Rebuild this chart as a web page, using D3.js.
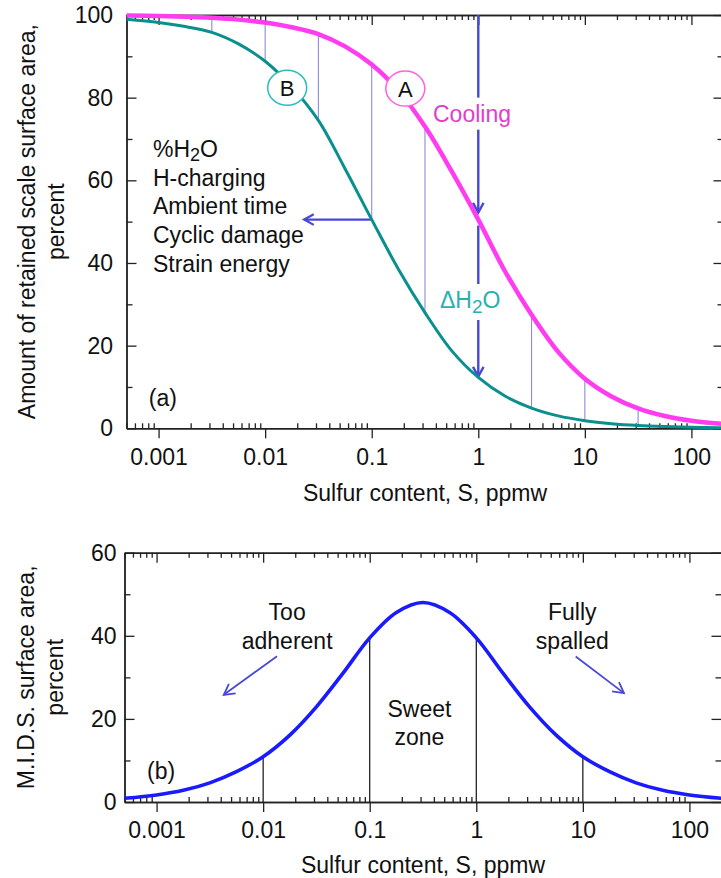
<!DOCTYPE html>
<html><head><meta charset="utf-8">
<script src="https://cdn.jsdelivr.net/npm/d3@7"></script>
<style>
body{margin:0;background:#fff;}
svg text{font-family:"Liberation Sans", Arial, Helvetica, sans-serif;}
</style></head><body>
<svg id="chart" width="721" height="878"></svg>
<script>
// ---------------- data ----------------
const sulfur = [0.0005, 0.001, 0.00178, 0.00316, 0.00562, 0.01, 0.0178, 0.0316, 0.0562, 0.1, 0.178, 0.316, 0.562, 1, 1.78, 3.16, 5.62, 10, 17.8, 31.6, 56.2, 100, 200];
const curveA = [99.86, 99.75, 99.58, 99.32, 98.88, 98.17, 97.03, 95.4, 92.4, 88.0, 81.7, 73.0, 62.2, 50.5, 38.0, 27.5, 18.5, 12.0, 7.7, 4.8, 2.97, 1.83, 1.05];
const curveB = [99.0, 98.2, 97.2, 95.8, 93.0, 88.8, 82.6, 74.5, 62.8, 50.5, 38.5, 28.0, 18.8, 12.3, 7.8, 4.9, 3.0, 1.85, 1.12, 0.68, 0.42, 0.25, 0.13];
const mids = [0.9, 1.7, 2.8, 4.6, 7.3, 10.9, 16.1, 22.9, 31.0, 39.5, 45.6, 48.0, 45.6, 39.5, 31.0, 22.9, 16.1, 10.9, 7.3, 4.6, 2.8, 1.7, 0.9];
const dropLinesS = [0.00316, 0.01, 0.0316, 0.1, 0.316, 3.16, 10, 31.6];
const midsLinesS = [0.01, 0.1, 1, 10];
const xTickValues = [0.001, 0.01, 0.1, 1, 10, 100];
const yTicksTop = [0, 20, 40, 60, 80, 100];
const yMinorTop = [10, 30, 50, 70, 90];
const yTicksBot = [0, 20, 40, 60];
const yMinorBot = [10, 30, 50];
const factorLabels = ["%H\u2082O", "H-charging", "Ambient time", "Cyclic damage", "Strain energy"];
const xTitle = "Sulfur content, S, ppmw";
const yTitleTop = ["Amount of retained scale surface area,", "percent"];
const yTitleBot = ["M.I.D.S. surface area,", "percent"];

// ---------------- setup ----------------
const svg = d3.select("#chart");
const FONT = 23;
const colA = "#ff3cf0", colB = "#0a8f8f", colMids = "#1a1aff";
const colThin = "#8a8ae0", colArrow = "#4848d8";

const xTop = d3.scaleLog().domain([0.0005, 200]).range([126.5, 723.5]);
const yTop = d3.scaleLinear().domain([0, 100]).range([428.3, 15]);
const xBot = d3.scaleLog().domain([0.0005, 200]).range([124.5, 721.5]);
const yBot = d3.scaleLinear().domain([0, 60]).range([802, 552.7]);

function minorTicks(dom) {
  const out = [];
  for (let k = -5; k <= 3; k++) for (let m = 2; m <= 9; m++) {
    const v = m * Math.pow(10, k);
    if (v >= dom[0] && v <= dom[1]) out.push(v);
  }
  return out;
}
function interp(arr, s) {
  const ls = sulfur.map(Math.log10), t = Math.log10(s);
  for (let i = 0; i < ls.length - 1; i++) {
    if (t >= ls[i] - 1e-9 && t <= ls[i + 1] + 1e-9) {
      const f = (t - ls[i]) / (ls[i + 1] - ls[i]);
      return arr[i] + f * (arr[i + 1] - arr[i]);
    }
  }
  return arr[arr.length - 1];
}

function styleAxis(g) {
  g.selectAll("path.domain").attr("stroke", "#222").attr("stroke-width", 1.4);
  g.selectAll(".tick line").attr("stroke", "#222").attr("stroke-width", 1.3);
  g.selectAll("text").attr("font-size", FONT).attr("fill", "#111")
    .attr("font-family", "'Liberation Sans', Arial, sans-serif");
  g.attr("font-family", null).attr("font-size", null);
}

function drawFrame(x, y, yMaj, yMin, leftPad) {
  const [x0, x1] = x.range(), [y0, y1] = y.range();
  const minors = minorTicks(x.domain());
  svg.append("g").attr("transform", `translate(0,${y0})`)
    .call(d3.axisBottom(x).tickValues(minors).tickSize(-5).tickSizeOuter(0).tickFormat(""))
    .call(styleAxis);
  svg.append("g").attr("transform", `translate(0,${y0})`)
    .call(d3.axisBottom(x).tickValues(xTickValues).tickSize(10).tickSizeOuter(0).tickPadding(10).tickFormat(d3.format("~g")))
    .call(styleAxis);
  svg.append("g").attr("transform", `translate(0,${y1})`)
    .call(d3.axisTop(x).tickValues(minors).tickSize(-5).tickSizeOuter(0).tickFormat(""))
    .call(styleAxis);
  svg.append("g").attr("transform", `translate(0,${y1})`)
    .call(d3.axisTop(x).tickValues(xTickValues).tickSize(-10).tickSizeOuter(0).tickFormat(""))
    .call(styleAxis);
  svg.append("g").attr("transform", `translate(${x0},0)`)
    .call(d3.axisLeft(y).tickValues(yMin).tickSize(-6).tickSizeOuter(0).tickFormat(""))
    .call(styleAxis);
  svg.append("g").attr("transform", `translate(${x0},0)`)
    .call(d3.axisLeft(y).tickValues(yMaj).tickSize(-10).tickSizeOuter(0).tickPadding(leftPad).tickFormat(d3.format("d")))
    .call(styleAxis);
  svg.append("g").attr("transform", `translate(${x1},0)`)
    .call(d3.axisRight(y).tickValues(yMin).tickSize(-6).tickSizeOuter(0).tickFormat(""))
    .call(styleAxis);
  svg.append("g").attr("transform", `translate(${x1},0)`)
    .call(d3.axisRight(y).tickValues(yMaj).tickSize(-10).tickSizeOuter(0).tickFormat(""))
    .call(styleAxis);
}

function arrow(g, xa, ya, xb, yb, color, w, head) {
  g.append("line").attr("x1", xa).attr("y1", ya).attr("x2", xb).attr("y2", yb)
    .attr("stroke", color).attr("stroke-width", w);
  const ang = Math.atan2(yb - ya, xb - xa), L = head || 11, s = 0.5;
  const p = [[xb - L * Math.cos(ang - s), yb - L * Math.sin(ang - s)], [xb, yb], [xb - L * Math.cos(ang + s), yb - L * Math.sin(ang + s)]];
  g.append("path").attr("d", d3.line()(p)).attr("fill", "none").attr("stroke", color)
    .attr("stroke-width", w).attr("stroke-linejoin", "miter").attr("stroke-linecap", "butt");
}

function bgText(g, txt, pad) {
  const b = txt.node().getBBox();
  g.insert("rect", () => txt.node()).attr("x", b.x - pad).attr("y", b.y - pad)
    .attr("width", b.width + 2 * pad).attr("height", b.height + 2 * pad).attr("fill", "#fff");
}

// ================= TOP PANEL (a) =================
drawFrame(xTop, yTop, yTicksTop, yMinorTop, 13.5);
const gA = svg.append("g");

dropLinesS.forEach(s => {
  gA.append("line").attr("x1", xTop(s)).attr("x2", xTop(s))
    .attr("y1", yTop(interp(curveA, s))).attr("y2", yTop(interp(curveB, s)))
    .attr("stroke", colThin).attr("stroke-width", 1.1);
});

const sArrow = 1;
const annG = svg.append("g");
arrow(annG, xTop(sArrow), yTop(100), xTop(sArrow), yTop(interp(curveA, sArrow)) - 7, colArrow, 2.4, 11);
arrow(annG, xTop(sArrow), yTop(interp(curveA, sArrow)) + 6, xTop(sArrow), yTop(interp(curveB, sArrow)) - 1, colArrow, 2.4, 11);
arrow(annG, xTop(0.1), yTop(interp(curveB, 0.1)), xTop(0.0232), yTop(interp(curveB, 0.1)), colArrow, 2.2, 11);

const coolT = annG.append("text").attr("x", xTop(0.376)).attr("y", yTop(74.2))
  .attr("font-size", FONT).attr("fill", "#e040c8").text("Cooling");
bgText(annG, coolT, 3);
const dT = annG.append("text").attr("x", xTop(0.437)).attr("y", yTop(29.1))
  .attr("font-size", FONT).attr("fill", "#2ab0b0");
dT.append("tspan").text("\u0394H");
dT.append("tspan").attr("dy", 5).attr("font-size", 19).text("2");
dT.append("tspan").attr("dy", -5).text("O");
bgText(annG, dT, 3);

const lineTop = d3.line().x(d => xTop(d[0])).y(d => yTop(d[1])).curve(d3.curveCatmullRom.alpha(0.5));
svg.append("path").datum(sulfur.map((s, i) => [s, curveB[i]])).attr("d", lineTop)
  .attr("fill", "none").attr("stroke", colB).attr("stroke-width", 3);
svg.append("path").datum(sulfur.map((s, i) => [s, curveA[i]])).attr("d", lineTop)
  .attr("fill", "none").attr("stroke", colA).attr("stroke-width", 4.5);

[[0.0161, 82.4, "B", "#30bcbc"], [0.2066, 82.2, "A", "#ff60e0"]].forEach(([s, v, l, c]) => {
  svg.append("ellipse").attr("cx", xTop(s)).attr("cy", yTop(v)).attr("rx", 19.5).attr("ry", 17.5)
    .attr("fill", "#fff").attr("stroke", c).attr("stroke-width", 1.5);
  svg.append("text").attr("x", xTop(s)).attr("y", yTop(v) + 8).attr("text-anchor", "middle")
    .attr("font-size", 22).attr("fill", "#111").text(l);
});

// factor list (one text element per line)
factorLabels.forEach((t, i) => {
  const el = svg.append("text").attr("x", xTop(0.000886)).attr("y", yTop(65.6) + i * 28.6)
    .attr("font-size", FONT).attr("fill", "#111");
  if (i === 0) {
    el.append("tspan").text("%H");
    el.append("tspan").attr("dy", 4).attr("font-size", 18).text("2");
    el.append("tspan").attr("dy", -4).text("O");
  } else el.text(t);
});
svg.append("text").attr("x", xTop(0.00081)).attr("y", yTop(5.4)).attr("font-size", FONT)
  .attr("fill", "#111").text("(a)");

svg.append("text").attr("x", 425).attr("y", 501).attr("text-anchor", "middle")
  .attr("font-size", FONT).attr("fill", "#111").text(xTitle);
yTitleTop.forEach((t, i) => {
  svg.append("text").attr("transform", `translate(${35 + i * 29},221.6) rotate(-90)`)
    .attr("text-anchor", "middle").attr("font-size", FONT).attr("fill", "#111").text(t);
});

// ================= BOTTOM PANEL (b) =================
drawFrame(xBot, yBot, yTicksBot, yMinorBot, 8);
midsLinesS.forEach(s => {
  svg.append("line").attr("x1", xBot(s)).attr("x2", xBot(s))
    .attr("y1", yBot(0)).attr("y2", yBot(interp(mids, s)))
    .attr("stroke", "#111").attr("stroke-width", 1.2);
});
const lineBot = d3.line().x(d => xBot(d[0])).y(d => yBot(d[1])).curve(d3.curveCatmullRom.alpha(0.5));
svg.append("path").datum(sulfur.map((s, i) => [s, mids[i]])).attr("d", lineBot)
  .attr("fill", "none").attr("stroke", colMids).attr("stroke-width", 3.6);

const annB = svg.append("g");
function twoLine(s, v, lines) {
  const t = annB.append("text").attr("font-size", FONT).attr("fill", "#111").attr("text-anchor", "middle");
  lines.forEach((l, i) => t.append("tspan").attr("x", xBot(s)).attr("y", yBot(v) + i * 28.5).text(l));
}
twoLine(0.0168, 43.8, ["Too", "adherent"]);
twoLine(7.96, 43.8, ["Fully", "spalled"]);
twoLine(0.293, 20.5, ["Sweet", "zone"]);
arrow(annB, xBot(0.0135), yBot(35.1), xBot(0.00427), yBot(25.8), colArrow, 1.8, 12);
arrow(annB, xBot(8.57), yBot(35.0), xBot(24.3), yBot(26.2), colArrow, 1.8, 12);
annB.append("text").attr("x", xBot(0.000815)).attr("y", yBot(5.5)).attr("font-size", FONT)
  .attr("fill", "#111").text("(b)");

svg.append("text").attr("x", 423).attr("y", 873).attr("text-anchor", "middle")
  .attr("font-size", FONT).attr("fill", "#111").text(xTitle);
yTitleBot.forEach((t, i) => {
  svg.append("text").attr("transform", `translate(${34 + i * 29},677.3) rotate(-90)`)
    .attr("text-anchor", "middle").attr("font-size", FONT).attr("fill", "#111").text(t);
});
</script>
</body></html>
